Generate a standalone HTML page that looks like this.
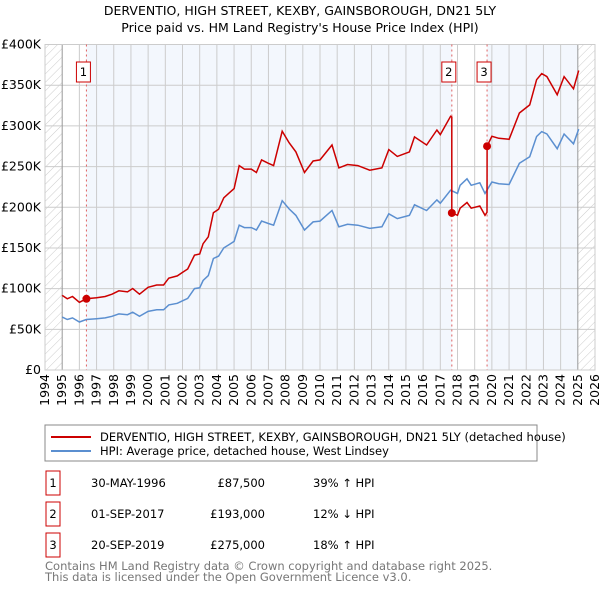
<!DOCTYPE html>
<html><head><meta charset="utf-8"><style>
body{margin:0;background:#fff;font-family:"Liberation Sans","DejaVu Sans",sans-serif;}
#wrap{position:relative;width:600px;height:590px;overflow:hidden}
svg text{font-family:"DejaVu Sans","Liberation Sans",sans-serif}
</style></head><body><div id="wrap">
<svg id="c" width="600" height="590" xmlns="http://www.w3.org/2000/svg">
<defs><pattern id="hatch" width="6" height="6" patternUnits="userSpaceOnUse" patternTransform="rotate(45)"><line x1="0" y1="0" x2="0" y2="6" stroke="#ccc" stroke-width="1"/></pattern></defs>
<text x="300" y="15" text-anchor="middle" font-size="12.5">DERVENTIO, HIGH STREET, KEXBY, GAINSBOROUGH, DN21 5LY</text>
<text x="300" y="32" text-anchor="middle" font-size="12.5">Price paid vs. HM Land Registry's House Price Index (HPI)</text>
<g id="plot"></g>
<rect x="45" y="425" width="492" height="36" fill="#fff" stroke="#888"/>
<line x1="51" y1="437" x2="91" y2="437" stroke="#cc0000" stroke-width="2"/>
<text x="100" y="441" font-size="11.5">DERVENTIO, HIGH STREET, KEXBY, GAINSBOROUGH, DN21 5LY (detached house)</text>
<line x1="51" y1="451" x2="91" y2="451" stroke="#5b8fd0" stroke-width="2"/>
<text x="100" y="455" font-size="11.5">HPI: Average price, detached house, West Lindsey</text>
<g id="table" font-size="11.5"></g>
<text x="45" y="570" font-size="11.5" fill="#777">Contains HM Land Registry data © Crown copyright and database right 2025.</text>
<text x="45" y="581" font-size="11.5" fill="#777">This data is licensed under the Open Government Licence v3.0.</text>
</svg></div>
<script>
const hpiYears=[1995,1995.3,1995.6,1996,1996.4,1997,1997.5,1997.9,1998.3,1998.8,1999.1,1999.5,2000,2000.5,2000.9,2001.2,2001.7,2002,2002.3,2002.7,2003,2003.2,2003.5,2003.8,2004.1,2004.4,2004.7,2005,2005.3,2005.6,2006,2006.3,2006.6,2007,2007.3,2007.8,2008.2,2008.6,2009.1,2009.6,2010,2010.7,2011.1,2011.6,2012.2,2012.9,2013.6,2014,2014.5,2015.2,2015.5,2016.2,2016.8,2017,2017.6,2018,2018.15,2018.55,2018.8,2019.3,2019.6,2020,2020.4,2021,2021.6,2022.2,2022.6,2022.9,2023.2,2023.8,2024.2,2024.75,2025.05];
const hpiValues=[65,62,64,59,62,63,64,66,69,68,71,66,72,74,74,80,82,85,88,100,101,110,116,137,140,150,154,158,178,175,175,172,183,180,178,208,198,190,172,182,183,196,176,179,178,174,176,192,186,190,203,196,209,205,221,217,227,235,227,230,217,231,229,228,254,262,287,293,290,272,290,278,296,288];
const saleYears=[1996.41,2017.67,2019.72];
const salePrices=[87.5,193,275];
const saleLabels=["1","2","3"];
const saleDates=["30-MAY-1996","01-SEP-2017","20-SEP-2019"];
const salePriceText=["£87,500","£193,000","£275,000"];
const saleDiff=["39% ↑ HPI","12% ↓ HPI","18% ↑ HPI"];
const yTicks=[0,50,100,150,200,250,300,350,400];
const yTickLabels=["£0","£50K","£100K","£150K","£200K","£250K","£300K","£350K","£400K"];
const xTicks=[1994,1995,1996,1997,1998,1999,2000,2001,2002,2003,2004,2005,2006,2007,2008,2009,2010,2011,2012,2013,2014,2015,2016,2017,2018,2019,2020,2021,2022,2023,2024,2025,2026];
const X0=45,X1=595,Y0=370,Y1=44.5;
const x=v=>X0+(v-1994)/32*(X1-X0);
const y=v=>Y0-v/400*(Y0-Y1);
const NS="http://www.w3.org/2000/svg";
const g=document.getElementById('plot');
function mk(tag,attrs,parent){const e=document.createElementNS(NS,tag);for(const k in attrs)e.setAttribute(k,attrs[k]);(parent||g).appendChild(e);return e;}
function hpiAt(t){for(let i=1;i<hpiYears.length;i++){if(t<=hpiYears[i]){const f=(t-hpiYears[i-1])/(hpiYears[i]-hpiYears[i-1]);return hpiValues[i-1]+f*(hpiValues[i]-hpiValues[i-1]);}}return hpiValues[hpiValues.length-1];}
let e;
e=mk('rect',{x:X0,y:Y1,width:X1-X0,height:Y0-Y1,fill:'#fff'});

e=mk('rect',{x:x(saleYears[0]),y:Y1,width:x(saleYears[1])-x(saleYears[0]),height:Y0-Y1,fill:'#f3f7fd'});

e=mk('rect',{x:x(saleYears[2]),y:Y1,width:x(2025)-x(saleYears[2]),height:Y0-Y1,fill:'#f3f7fd'});

e=mk('rect',{x:X0,y:Y1,width:x(1995)-X0,height:Y0-Y1,fill:'url(#hatch)'});

e=mk('rect',{x:x(2025),y:Y1,width:X1-x(2025),height:Y0-Y1,fill:'url(#hatch)'});

yTicks.forEach((t,i)=>{
 e=mk('line',{x1:X0,x2:X1,y1:y(t),y2:y(t),stroke:'#ccc'});
 
 e=mk('text',{x:X0-4,y:y(t)+4,'text-anchor':'end','font-size':'12.5'});e.textContent=yTickLabels[i];
 
});
xTicks.forEach(t=>{
 e=mk('line',{x1:x(t),x2:x(t),y1:Y1,y2:Y0,stroke:(t==1995||t==2025)?'#999':'#ccc'});
 
 e=mk('text',{x:0,y:0,'font-size':'12.5','text-anchor':'end',transform:`translate(${x(t)+4},${Y0+4}) rotate(-90)`});e.textContent=t;
 
});
e=mk('rect',{x:X0,y:Y1,width:X1-X0,height:Y0-Y1,fill:'none',stroke:'#ccc'});

saleYears.forEach((s,i)=>{
 e=mk('line',{x1:x(s),x2:x(s),y1:Y1,y2:Y0,stroke:'#e06060','stroke-dasharray':'2,3'});
 
 e=mk('rect',{x:x(s)-10,y:62,width:14,height:20,fill:'#fff',stroke:'#cc0000'});
 
 e=mk('text',{x:x(s)-3,y:76,'text-anchor':'middle','font-size':'11.5'});e.textContent=saleLabels[i];
 
});
let d=hpiYears.map((t,i)=>(i?'L':'M')+x(t).toFixed(1)+','+y(hpiValues[i]).toFixed(1)).join('');
e=mk('path',{d:d,fill:'none',stroke:'#5b8fd0','stroke-width':1.5});

const pts=[];
hpiYears.forEach((t,i)=>{
 let k=-1;for(let j=0;j<saleYears.length;j++)if(t>=saleYears[j])k=j;
 let r=k<0?salePrices[0]/hpiAt(saleYears[0]):salePrices[k]/hpiAt(saleYears[k]);
 pts.push([t,hpiValues[i]*r]);
});
saleYears.forEach((s,j)=>{
 if(j>0){const rp=salePrices[j-1]/hpiAt(saleYears[j-1]);pts.push([s-0.001,hpiAt(s)*rp]);}
 pts.push([s,salePrices[j]]);
});
pts.sort((a,b)=>a[0]-b[0]);
const pd=pts.map((p,i)=>(i?'L':'M')+x(p[0]).toFixed(1)+','+y(p[1]).toFixed(1)).join('');
e=mk('path',{d:pd,fill:'none',stroke:'#cc0000','stroke-width':1.5});

saleYears.forEach((s,i)=>{
 e=mk('circle',{cx:x(s),cy:y(salePrices[i]),r:4,fill:'#cc0000'});
 
});
const tb=document.getElementById('table');
saleYears.forEach((s,i)=>{
 const ry=483+i*31;
 e=mk('rect',{x:46,y:ry-12,width:14,height:24,fill:'#fff',stroke:'#cc0000'},tb);
 
 e=mk('text',{x:53,y:ry+4,'text-anchor':'middle'},tb);e.textContent=saleLabels[i];
 
 e=mk('text',{x:91,y:ry+4},tb);e.textContent=saleDates[i];
 
 e=mk('text',{x:265,y:ry+4,'text-anchor':'end'},tb);e.textContent=salePriceText[i];
 
 e=mk('text',{x:313,y:ry+4},tb);e.textContent=saleDiff[i];
 
});
</script></body></html>
